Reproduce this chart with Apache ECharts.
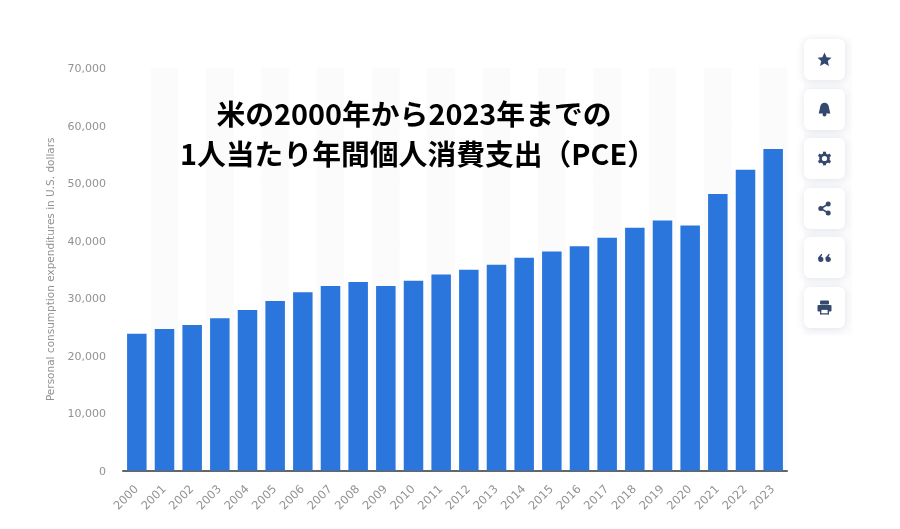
<!DOCTYPE html>
<html><head><meta charset="utf-8">
<script src="https://cdn.jsdelivr.net/npm/echarts@6/dist/echarts.min.js"></script>
<style>html,body{margin:0;background:#fff}#c{width:900px;height:529px}</style></head>
<body><div id="c"></div>
<script>
const years = ['2000','2001','2002','2003','2004','2005','2006','2007','2008','2009','2010','2011','2012','2013','2014','2015','2016','2017','2018','2019','2020','2021','2022','2023'];
const pce = [23800,24600,25300,26500,27900,29500,31000,32100,32800,32100,33000,34100,34900,35800,37000,38100,39000,40500,42200,43500,42600,48100,52300,55900];
const titleLine1 = '米の2000年から2023年までの';
const titleLine2 = '1人当たり年間個人消費支出（PCE）';
const yAxisName = 'Personal consumption expenditures in U.S. dollars';
const buttonTops = [39,89,138,188,237,287];
const ink = '#33496e';
const poly = pts => ({type:'polygon',shape:{points:pts},style:{fill:ink}});
const circ = (cx,cy,r,fill) => ({type:'circle',shape:{cx,cy,r},style:{fill:fill||ink}});
const bar = (x1,y1,x2,y2) => ({type:'line',shape:{x1,y1,x2,y2},style:{stroke:ink,lineWidth:1.5}});
const box = (x,y,width,height,fill) => ({type:'rect',shape:{x,y,width,height,r:1},style:{fill:fill||ink}});
const icons = [
  [poly([[0,-7],[2.1,-2.3],[7,-1.8],[3.3,1.5],[4.4,6.5],[0,3.9],[-4.4,6.5],[-3.3,1.5],[-7,-1.8],[-2.1,-2.3]])],
  [circ(0,-2.5,4.3),poly([[-4.3,-2.5],[4.3,-2.5],[5.8,4],[-5.8,4]]),circ(0,5,1.9)],
  [circ(0,0,5.3),poly([[-1.5,-6.8],[1.5,-6.8],[1.5,6.8],[-1.5,6.8]]),poly([[-6.6,-2.4],[-5.1,-5],[6.6,2.4],[5.1,5]]),poly([[-6.6,2.4],[-5.1,5],[6.6,-2.4],[5.1,-5]]),circ(0,0,2.6,'#fff')],
  [circ(3.7,-4.4,2.5),circ(3.7,4.4,2.5),circ(-3.7,0,2.5),bar(-3.7,0,3.7,-4.4),bar(-3.7,0,3.7,4.4)],
  [circ(-3.7,1.8,2.6),circ(3.7,1.8,2.6),poly([[-6.3,1.8],[-6.3,0],[-3,-3.8],[-2.2,-3],[-3.8,0]]),poly([[1.1,1.8],[1.1,0],[4.4,-3.8],[5.2,-3],[3.6,0]])],
  [box(-4.5,-7,9,4),box(-7,-2.5,14,6.5),box(-3.3,2,6.6,4.8,'#fff'),box(-4.5,1,9,1.2),box(-4.5,2,1.3,5),box(3.2,2,1.3,5),box(-4.5,5.8,9,1.2)]
];
const chart = echarts.init(document.getElementById('c'), null, {renderer:'canvas'});
const graphic = [{type:'rect',shape:{x:804,y:39,width:48,height:296},style:{fill:'#fcfcfd'},silent:true,z:1}];
buttonTops.forEach((t,i)=>{
  graphic.push({type:'rect',shape:{x:804,y:t,width:41,height:41,r:6},
    style:{fill:'#fff',shadowBlur:8,shadowColor:'rgba(20,40,80,0.12)',shadowOffsetY:1},z:2});
  graphic.push({type:'group',x:824.5,y:t+20.5,z:3,children:icons[i].map(c=>Object.assign({z:3},c))});
});
const labelFont = '"DejaVu Sans",sans-serif';
chart.setOption({
  animation:false,
  backgroundColor:'#fff',
  title:[
    {text:titleLine1,left:409,top:95,textAlign:'center',textStyle:{fontFamily:'"Noto Sans CJK JP"',fontSize:28.8,fontWeight:700,color:'#000'}},
    {text:titleLine2,left:413,top:135,textAlign:'center',textStyle:{fontFamily:'"Noto Sans CJK JP"',fontSize:28.8,fontWeight:700,color:'#000'}}
  ],
  grid:{left:123,right:113,top:68,bottom:58.5},
  xAxis:{type:'category',data:years,
    axisLine:{lineStyle:{color:'#666',width:2}},axisTick:{show:false},
    axisLabel:{rotate:45,color:'#8f9296',fontFamily:labelFont,fontSize:11.5,interval:0,margin:17},
    splitArea:{show:true,interval:0,areaStyle:{color:['#ffffff','#fbfbfb']}}},
  yAxis:{type:'value',min:0,max:70000,interval:10000,
    name:yAxisName,nameLocation:'middle',nameGap:61,nameTextStyle:{color:'#8f9296',fontFamily:labelFont,fontSize:10.5},
    axisLine:{show:false},axisTick:{show:false},
    axisLabel:{color:'#8f9296',fontFamily:labelFont,fontSize:11,margin:17,verticalAlign:'top',lineHeight:3,formatter:v=>v.toLocaleString('en-US')},
    splitLine:{lineStyle:{color:'#d8d8d8',type:'dotted',width:1}}},
  series:[{type:'bar',data:pce,barWidth:19.5,itemStyle:{color:'#2a76dd'}}],
  graphic:graphic
});
</script></body></html>
